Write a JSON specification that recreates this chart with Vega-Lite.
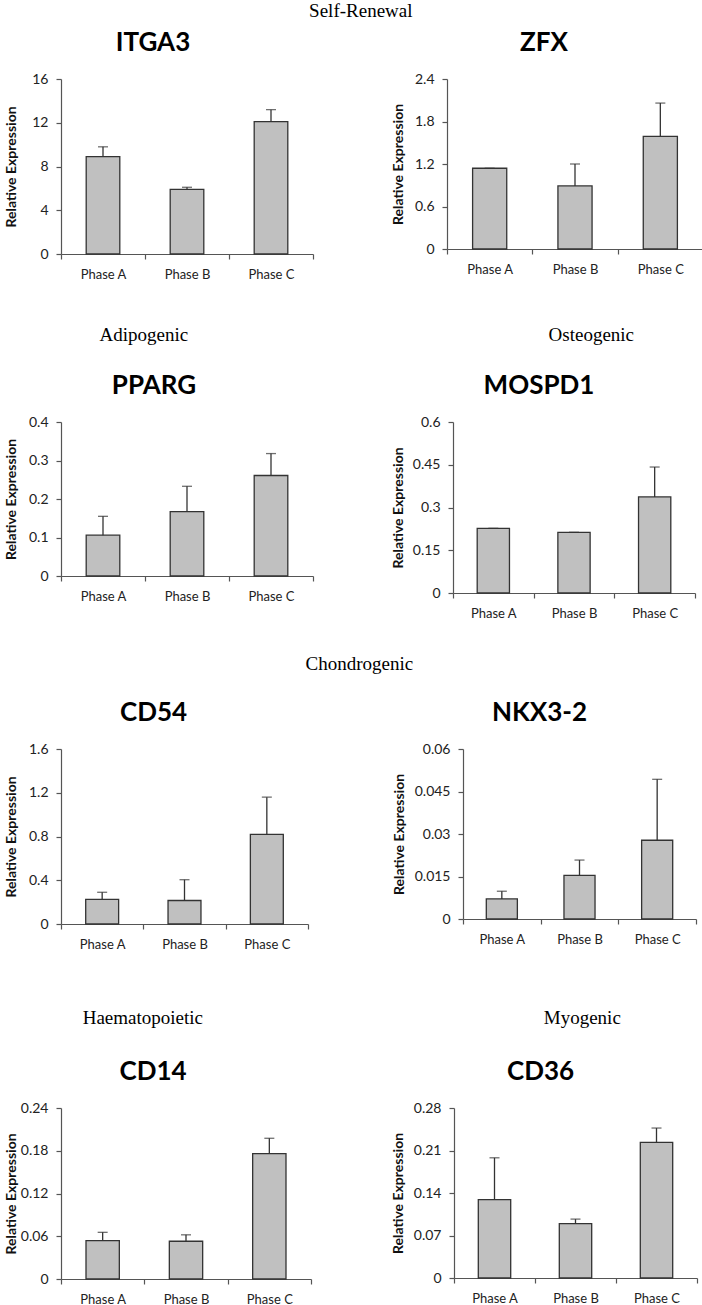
{
  "$schema": "https://vega.github.io/schema/vega-lite/v6.json",
  "padding": {"left": 3, "top": 2, "right": 0, "bottom": 0},
  "background": "white",
  "data": {"values": [
    {"gene": "ITGA3", "phase": "Phase A", "value": 8.9, "err": 9.8},
    {"gene": "ITGA3", "phase": "Phase B", "value": 5.9, "err": 6.1},
    {"gene": "ITGA3", "phase": "Phase C", "value": 12.1, "err": 13.2},
    {"gene": "ZFX", "phase": "Phase A", "value": 1.14, "err": 1.14},
    {"gene": "ZFX", "phase": "Phase B", "value": 0.89, "err": 1.2},
    {"gene": "ZFX", "phase": "Phase C", "value": 1.59, "err": 2.06},
    {"gene": "PPARG", "phase": "Phase A", "value": 0.106, "err": 0.155},
    {"gene": "PPARG", "phase": "Phase B", "value": 0.167, "err": 0.233},
    {"gene": "PPARG", "phase": "Phase C", "value": 0.261, "err": 0.318},
    {"gene": "MOSPD1", "phase": "Phase A", "value": 0.227, "err": 0.227},
    {"gene": "MOSPD1", "phase": "Phase B", "value": 0.213, "err": 0.213},
    {"gene": "MOSPD1", "phase": "Phase C", "value": 0.337, "err": 0.442},
    {"gene": "CD54", "phase": "Phase A", "value": 0.225, "err": 0.29},
    {"gene": "CD54", "phase": "Phase B", "value": 0.215, "err": 0.405},
    {"gene": "CD54", "phase": "Phase C", "value": 0.82, "err": 1.16},
    {"gene": "NKX3-2", "phase": "Phase A", "value": 0.0071, "err": 0.0098},
    {"gene": "NKX3-2", "phase": "Phase B", "value": 0.0154, "err": 0.0208},
    {"gene": "NKX3-2", "phase": "Phase C", "value": 0.0278, "err": 0.0493},
    {"gene": "CD14", "phase": "Phase A", "value": 0.054, "err": 0.0655},
    {"gene": "CD14", "phase": "Phase B", "value": 0.053, "err": 0.062},
    {"gene": "CD14", "phase": "Phase C", "value": 0.176, "err": 0.1975},
    {"gene": "CD36", "phase": "Phase A", "value": 0.129, "err": 0.198},
    {"gene": "CD36", "phase": "Phase B", "value": 0.0895, "err": 0.097},
    {"gene": "CD36", "phase": "Phase C", "value": 0.2235, "err": 0.247}
  ]},
  "spacing": 35,
  "vconcat": [
    {
      "spacing": 45,
      "vconcat": [
        {
          "title": {"text": "Self-Renewal", "font": "Liberation Serif", "fontSize": 19, "fontWeight": "normal", "frame": "bounds", "dx": 7, "offset": 9},
          "spacing": 77,
          "hconcat": [
            {
              "width": 252, "height": 175,
              "transform": [{"filter": "datum.gene === 'ITGA3'"}],
              "title": {"text": "ITGA3", "dx": -34},
              "encoding": {"x": {"field": "phase", "type": "nominal", "title": null, "scale": {"paddingInner": 0, "paddingOuter": 0}}},
              "layer": [
                {"mark": {"type": "bar", "width": {"band": 0.4}, "color": "#c0c0c0", "stroke": "#333", "strokeWidth": 1.3},
                 "encoding": {"y": {"field": "value", "type": "quantitative", "scale": {"domain": [0, 16], "nice": false}, "axis": {"values": [0, 4, 8, 12, 16], "title": "Relative Expression", "titleX": -43}}}},
                {"mark": {"type": "rule", "color": "#333", "strokeWidth": 1.3}, "encoding": {"y": {"field": "value", "type": "quantitative"}, "y2": {"field": "err"}}},
                {"mark": {"type": "tick", "color": "#333", "thickness": 1.3, "size": 10}, "encoding": {"y": {"field": "err", "type": "quantitative"}}}
              ]
            },
            {
              "width": 256, "height": 170,
              "transform": [{"filter": "datum.gene === 'ZFX'"}],
              "title": {"text": "ZFX", "dx": -31},
              "encoding": {"x": {"field": "phase", "type": "nominal", "title": null, "scale": {"paddingInner": 0, "paddingOuter": 0}}},
              "layer": [
                {"mark": {"type": "bar", "width": {"band": 0.4}, "color": "#c0c0c0", "stroke": "#333", "strokeWidth": 1.3},
                 "encoding": {"y": {"field": "value", "type": "quantitative", "scale": {"domain": [0, 2.4], "nice": false}, "axis": {"values": [0, 0.6, 1.2, 1.8, 2.4], "title": "Relative Expression", "titleX": -42}}}},
                {"mark": {"type": "rule", "color": "#333", "strokeWidth": 1.3}, "encoding": {"y": {"field": "value", "type": "quantitative"}, "y2": {"field": "err"}}},
                {"mark": {"type": "tick", "color": "#333", "thickness": 1.3, "size": 10}, "encoding": {"y": {"field": "err", "type": "quantitative"}}}
              ]
            }
          ]
        },
        {
          "spacing": 77,
          "hconcat": [
            {
              "title": {"text": "Adipogenic", "font": "Liberation Serif", "fontSize": 19, "fontWeight": "normal", "frame": "bounds", "dx": -15, "offset": 28},
              "vconcat": [
                {
                  "width": 252, "height": 154,
                  "transform": [{"filter": "datum.gene === 'PPARG'"}],
                  "title": {"text": "PPARG", "dx": -33},
                  "encoding": {"x": {"field": "phase", "type": "nominal", "title": null, "scale": {"paddingInner": 0, "paddingOuter": 0}}},
                  "layer": [
                    {"mark": {"type": "bar", "width": {"band": 0.4}, "color": "#c0c0c0", "stroke": "#333", "strokeWidth": 1.3},
                     "encoding": {"y": {"field": "value", "type": "quantitative", "scale": {"domain": [0, 0.4], "nice": false}, "axis": {"values": [0, 0.1, 0.2, 0.3, 0.4], "tickCount": 5, "title": "Relative Expression", "titleX": -43}}}},
                    {"mark": {"type": "rule", "color": "#333", "strokeWidth": 1.3}, "encoding": {"y": {"field": "value", "type": "quantitative"}, "y2": {"field": "err"}}},
                    {"mark": {"type": "tick", "color": "#333", "thickness": 1.3, "size": 10}, "encoding": {"y": {"field": "err", "type": "quantitative"}}}
                  ]
                }
              ]
            },
            {
              "title": {"text": "Osteogenic", "font": "Liberation Serif", "fontSize": 19, "fontWeight": "normal", "frame": "bounds", "dx": 48, "offset": 28},
              "vconcat": [
                {
                  "width": 242, "height": 171,
                  "transform": [{"filter": "datum.gene === 'MOSPD1'"}],
                  "title": {"text": "MOSPD1", "dx": -35},
                  "encoding": {"x": {"field": "phase", "type": "nominal", "title": null, "scale": {"paddingInner": 0, "paddingOuter": 0}}},
                  "layer": [
                    {"mark": {"type": "bar", "width": {"band": 0.4}, "color": "#c0c0c0", "stroke": "#333", "strokeWidth": 1.3},
                     "encoding": {"y": {"field": "value", "type": "quantitative", "scale": {"domain": [0, 0.6], "nice": false}, "axis": {"values": [0, 0.15, 0.3, 0.45, 0.6], "tickCount": 5, "title": "Relative Expression", "titleX": -48}}}},
                    {"mark": {"type": "rule", "color": "#333", "strokeWidth": 1.3}, "encoding": {"y": {"field": "value", "type": "quantitative"}, "y2": {"field": "err"}}},
                    {"mark": {"type": "tick", "color": "#333", "thickness": 1.3, "size": 10}, "encoding": {"y": {"field": "err", "type": "quantitative"}}}
                  ]
                }
              ]
            }
          ]
        }
      ]
    },
    {
      "spacing": 58,
      "vconcat": [
        {
          "title": {"text": "Chondrogenic", "font": "Liberation Serif", "fontSize": 19, "fontWeight": "normal", "frame": "bounds", "dx": 9, "offset": 26},
          "spacing": 82,
          "hconcat": [
            {
              "width": 247, "height": 175,
              "transform": [{"filter": "datum.gene === 'CD54'"}],
              "title": {"text": "CD54", "dx": -31},
              "encoding": {"x": {"field": "phase", "type": "nominal", "title": null, "scale": {"paddingInner": 0, "paddingOuter": 0}}},
              "layer": [
                {"mark": {"type": "bar", "width": {"band": 0.4}, "color": "#c0c0c0", "stroke": "#333", "strokeWidth": 1.3},
                 "encoding": {"y": {"field": "value", "type": "quantitative", "scale": {"domain": [0, 1.6], "nice": false}, "axis": {"values": [0, 0.4, 0.8, 1.2, 1.6], "tickCount": 5, "title": "Relative Expression", "titleX": -43}}}},
                {"mark": {"type": "rule", "color": "#333", "strokeWidth": 1.3}, "encoding": {"y": {"field": "value", "type": "quantitative"}, "y2": {"field": "err"}}},
                {"mark": {"type": "tick", "color": "#333", "thickness": 1.3, "size": 10}, "encoding": {"y": {"field": "err", "type": "quantitative"}}}
              ]
            },
            {
              "width": 233, "height": 170,
              "transform": [{"filter": "datum.gene === 'NKX3-2'"}],
              "title": {"text": "NKX3-2", "dx": -40},
              "encoding": {"x": {"field": "phase", "type": "nominal", "title": null, "scale": {"paddingInner": 0, "paddingOuter": 0}}},
              "layer": [
                {"mark": {"type": "bar", "width": {"band": 0.4}, "color": "#c0c0c0", "stroke": "#333", "strokeWidth": 1.3},
                 "encoding": {"y": {"field": "value", "type": "quantitative", "scale": {"domain": [0, 0.06], "nice": false}, "axis": {"values": [0, 0.015, 0.03, 0.045, 0.06], "tickCount": 5, "title": "Relative Expression", "titleX": -57}}}},
                {"mark": {"type": "rule", "color": "#333", "strokeWidth": 1.3}, "encoding": {"y": {"field": "value", "type": "quantitative"}, "y2": {"field": "err"}}},
                {"mark": {"type": "tick", "color": "#333", "thickness": 1.3, "size": 10}, "encoding": {"y": {"field": "err", "type": "quantitative"}}}
              ]
            }
          ]
        },
        {
          "spacing": 79,
          "hconcat": [
            {
              "title": {"text": "Haematopoietic", "font": "Liberation Serif", "fontSize": 19, "fontWeight": "normal", "frame": "bounds", "dx": -15, "offset": 31},
              "vconcat": [
                {
                  "width": 250, "height": 171,
                  "transform": [{"filter": "datum.gene === 'CD14'"}],
                  "title": {"text": "CD14", "dx": -33},
                  "encoding": {"x": {"field": "phase", "type": "nominal", "title": null, "scale": {"paddingInner": 0, "paddingOuter": 0}}},
                  "layer": [
                    {"mark": {"type": "bar", "width": {"band": 0.4}, "color": "#c0c0c0", "stroke": "#333", "strokeWidth": 1.3},
                     "encoding": {"y": {"field": "value", "type": "quantitative", "scale": {"domain": [0, 0.24], "nice": false}, "axis": {"values": [0, 0.06, 0.12, 0.18, 0.24], "tickCount": 5, "title": "Relative Expression", "titleX": -43}}}},
                    {"mark": {"type": "rule", "color": "#333", "strokeWidth": 1.3}, "encoding": {"y": {"field": "value", "type": "quantitative"}, "y2": {"field": "err"}}},
                    {"mark": {"type": "tick", "color": "#333", "thickness": 1.3, "size": 10}, "encoding": {"y": {"field": "err", "type": "quantitative"}}}
                  ]
                }
              ]
            },
            {
              "title": {"text": "Myogenic", "font": "Liberation Serif", "fontSize": 19, "fontWeight": "normal", "frame": "bounds", "dx": 38, "offset": 31},
              "vconcat": [
                {
                  "width": 243, "height": 170,
                  "transform": [{"filter": "datum.gene === 'CD36'"}],
                  "title": {"text": "CD36", "dx": -35},
                  "encoding": {"x": {"field": "phase", "type": "nominal", "title": null, "scale": {"paddingInner": 0, "paddingOuter": 0}}},
                  "layer": [
                    {"mark": {"type": "bar", "width": {"band": 0.4}, "color": "#c0c0c0", "stroke": "#333", "strokeWidth": 1.3},
                     "encoding": {"y": {"field": "value", "type": "quantitative", "scale": {"domain": [0, 0.28], "nice": false}, "axis": {"values": [0, 0.07, 0.14, 0.21, 0.28], "tickCount": 5, "title": "Relative Expression", "titleX": -49}}}},
                    {"mark": {"type": "rule", "color": "#333", "strokeWidth": 1.3}, "encoding": {"y": {"field": "value", "type": "quantitative"}, "y2": {"field": "err"}}},
                    {"mark": {"type": "tick", "color": "#333", "thickness": 1.3, "size": 10}, "encoding": {"y": {"field": "err", "type": "quantitative"}}}
                  ]
                }
              ]
            }
          ]
        }
      ]
    }
  ],
  "config": {
    "view": {"stroke": null},
    "axis": {"domainColor": "#555", "tickColor": "#555", "domainWidth": 1.2, "tickWidth": 1.2, "labelFont": "Lato", "labelColor": "#222", "titleFont": "Lato", "titleColor": "#111", "grid": false},
    "axisX": {"labelAngle": 0, "tickBand": "extent", "tickSize": 5, "labelPadding": 9, "labelFontSize": 13},
    "axisY": {"tickSize": 5, "labelPadding": 8, "labelFontSize": 14, "titleFontSize": 14, "titleFontWeight": "bold", "labelExpr": "'' + datum.value", "labelOverlap": false},
    "title": {"font": "Lato", "fontSize": 26, "fontWeight": "bold", "color": "#000", "anchor": "middle", "frame": "group", "offset": 16}
  }
}
